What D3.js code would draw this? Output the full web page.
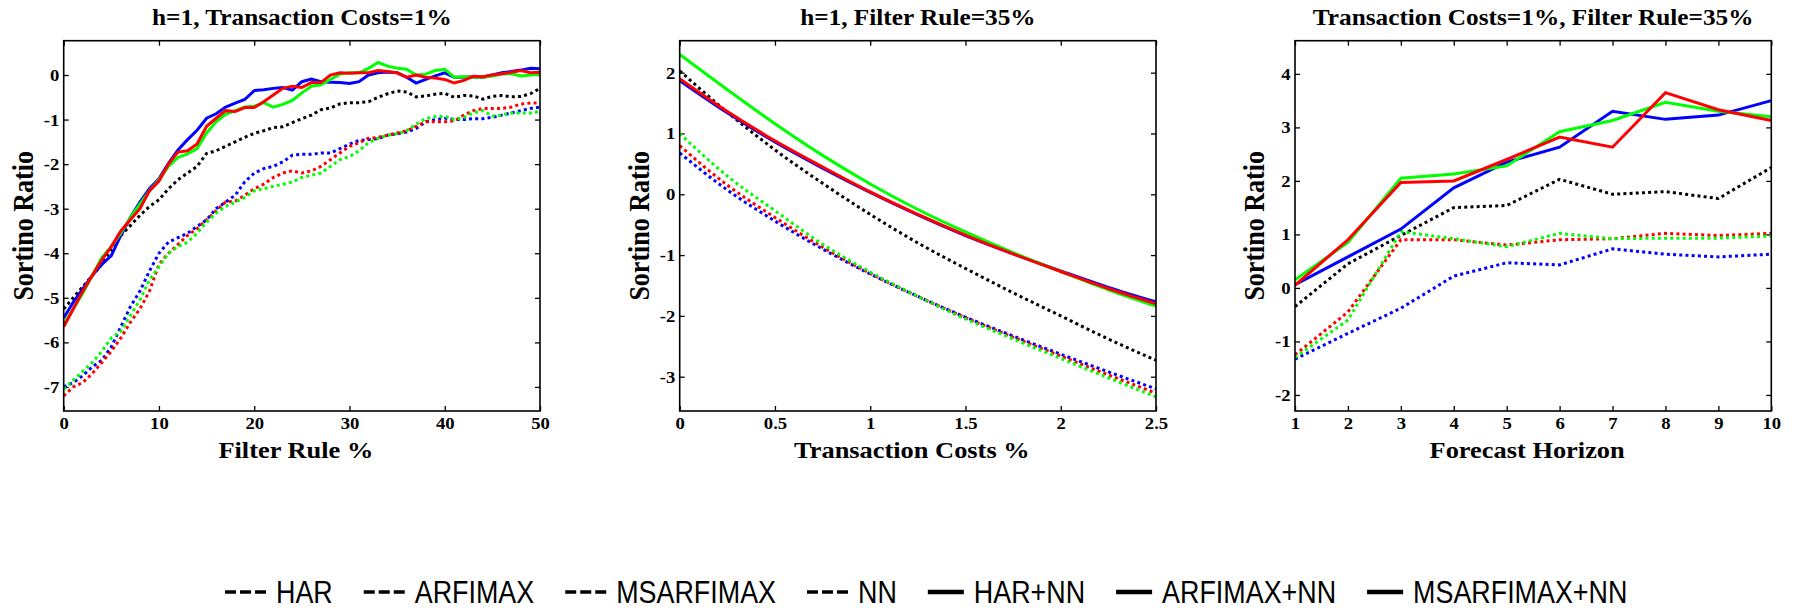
<!DOCTYPE html>
<html>
<head>
<meta charset="utf-8">
<script src="https://cdn.jsdelivr.net/npm/d3@7"></script>
<style>
  body { margin: 0; background: #fff; }
  svg text { font-family: "Liberation Serif", "Times New Roman", serif; font-weight: bold; fill: #000; }
  .legend text { font-family: "Liberation Sans", Arial, sans-serif; font-weight: normal; }
</style>
</head>
<body>
<svg id="chart"></svg>
<script>
// ---- data ----
const modelNames = ["HAR", "ARFIMAX", "MSARFIMAX", "NN", "HAR+NN", "ARFIMAX+NN", "MSARFIMAX+NN"];

// panel 1: h=1, transaction costs 1%, x = filter rule %
const filterRule = [0,1,2,3,4,5,6,7,8,9,10,11,12,13,14,15,16,17,18,19,20,21,22,23,24,25,26,27,28,29,30,
  31,32,33,34,35,36,37,38,39,40,41,42,43,44,45,46,47,48,49,50];
const fr_HAR = [-7.0,-6.9,-6.75,-6.55,-6.4,-6.1,-5.65,-5.2,-4.85,-4.4,-4.0,-3.75,-3.65,-3.55,-3.4,-3.25,-3.0,
  -2.85,-2.7,-2.4,-2.2,-2.1,-2.05,-1.95,-1.8,-1.78,-1.78,-1.75,-1.75,-1.65,-1.55,-1.47,-1.45,-1.43,-1.35,
  -1.32,-1.28,-1.2,-1.05,-1.0,-0.97,-1.0,-1.0,-0.98,-0.98,-0.95,-0.9,-0.85,-0.8,-0.75,-0.72];
const fr_ARFIMAX = [-7.2,-7.0,-6.9,-6.7,-6.45,-6.2,-5.9,-5.55,-5.25,-4.85,-4.25,-4.0,-3.8,-3.6,-3.45,-3.25,
  -3.05,-2.85,-2.83,-2.7,-2.55,-2.45,-2.3,-2.2,-2.15,-2.2,-2.15,-2.05,-1.9,-1.75,-1.6,-1.52,-1.42,-1.4,-1.35,
  -1.3,-1.25,-1.15,-1.05,-1.05,-1.05,-1.03,-0.9,-0.8,-0.75,-0.75,-0.75,-0.72,-0.65,-0.63,-0.63];
const fr_MSARFIMAX = [-7.05,-6.85,-6.65,-6.45,-6.2,-5.9,-5.75,-5.4,-5.05,-4.6,-4.3,-4.0,-3.85,-3.75,-3.55,
  -3.3,-3.1,-2.95,-2.85,-2.75,-2.6,-2.55,-2.5,-2.45,-2.4,-2.3,-2.25,-2.2,-2.05,-1.9,-1.83,-1.7,-1.52,-1.42,
  -1.35,-1.32,-1.25,-1.1,-0.98,-0.93,-0.93,-1.0,-0.95,-0.85,-0.8,-0.92,-0.9,-0.85,-0.85,-0.85,-0.82];
const fr_NN = [-5.25,-5.0,-4.75,-4.5,-4.25,-3.9,-3.6,-3.38,-3.15,-2.95,-2.8,-2.55,-2.35,-2.2,-2.05,-1.76,-1.7,
  -1.6,-1.5,-1.4,-1.31,-1.25,-1.18,-1.16,-1.07,-0.98,-0.9,-0.78,-0.74,-0.65,-0.62,-0.62,-0.6,-0.5,-0.42,-0.36,
  -0.38,-0.49,-0.47,-0.43,-0.41,-0.5,-0.46,-0.47,-0.54,-0.48,-0.46,-0.49,-0.48,-0.42,-0.3];
const fr_HAR_NN = [-5.45,-5.1,-4.8,-4.5,-4.25,-4.05,-3.6,-3.2,-2.85,-2.55,-2.33,-1.98,-1.68,-1.45,-1.24,-0.97,
  -0.87,-0.72,-0.63,-0.55,-0.35,-0.33,-0.3,-0.28,-0.34,-0.15,-0.09,-0.15,-0.16,-0.17,-0.19,-0.15,0.0,0.05,0.07,
  0.05,-0.05,-0.18,-0.1,-0.02,0.05,-0.05,-0.05,-0.04,-0.05,0.0,0.05,0.08,0.11,0.15,0.14];
const fr_ARFIMAX_NN = [-5.65,-5.25,-4.85,-4.5,-4.15,-3.85,-3.5,-3.25,-3.0,-2.6,-2.38,-2.0,-1.73,-1.7,-1.55,
  -1.15,-0.97,-0.8,-0.82,-0.73,-0.73,-0.6,-0.45,-0.3,-0.25,-0.28,-0.17,-0.17,0.0,0.05,0.04,0.05,0.05,0.1,0.08,
  0.05,-0.05,0.0,-0.05,-0.07,-0.1,-0.18,-0.12,-0.03,-0.04,0.0,0.03,0.06,0.1,0.05,0.06];
const fr_MSARFIMAX_NN = [-5.6,-5.25,-4.9,-4.5,-4.1,-3.85,-3.55,-3.2,-2.9,-2.6,-2.35,-2.05,-1.85,-1.77,-1.65,
  -1.3,-1.05,-0.88,-0.8,-0.72,-0.7,-0.62,-0.72,-0.66,-0.57,-0.4,-0.25,-0.22,-0.1,0.02,0.05,0.05,0.15,0.28,0.2,
  0.15,0.13,0.0,0.02,0.1,0.13,-0.05,-0.04,-0.05,-0.05,-0.02,0.02,0.03,-0.02,0.0,0.02];

// panel 2: h=1, filter rule 35%, x = transaction costs %
const transCosts = [0,0.25,0.5,0.75,1,1.25,1.5,1.75,2,2.25,2.5];
const tc_HAR = [0.68,0.07,-0.44,-0.9,-1.31,-1.68,-2.02,-2.33,-2.63,-2.92,-3.2];
const tc_ARFIMAX = [0.8,0.15,-0.38,-0.87,-1.3,-1.68,-2.03,-2.35,-2.66,-2.97,-3.27];
const tc_MSARFIMAX = [1.0,0.3,-0.27,-0.82,-1.28,-1.68,-2.05,-2.38,-2.7,-3.02,-3.33];
const tc_NN = [2.03,1.35,0.73,0.18,-0.33,-0.8,-1.22,-1.62,-2.0,-2.38,-2.73];
const tc_HAR_NN = [1.87,1.34,0.86,0.43,0.03,-0.34,-0.68,-0.98,-1.26,-1.53,-1.77];
const tc_ARFIMAX_NN = [1.9,1.36,0.88,0.45,0.04,-0.33,-0.67,-0.98,-1.27,-1.55,-1.8];
const tc_MSARFIMAX_NN = [2.3,1.72,1.16,0.64,0.17,-0.25,-0.62,-0.96,-1.27,-1.57,-1.84];

// panel 3: transaction costs 1%, filter rule 35%, x = forecast horizon
const horizon = [1,2,3,4,5,6,7,8,9,10];
const fh_HAR = [-1.33,-0.85,-0.38,0.22,0.47,0.43,0.73,0.63,0.58,0.63];
const fh_ARFIMAX = [-1.25,-0.45,0.9,0.9,0.8,0.9,0.92,1.02,0.98,1.02];
const fh_MSARFIMAX = [-1.3,-0.6,1.05,0.92,0.77,1.02,0.92,0.93,0.93,0.97];
const fh_NN = [-0.35,0.45,0.98,1.5,1.54,2.03,1.75,1.8,1.67,2.25];
const fh_HAR_NN = [0.06,0.58,1.1,1.87,2.35,2.63,3.3,3.15,3.23,3.5];
const fh_ARFIMAX_NN = [0.05,0.9,1.97,2.0,2.4,2.82,2.63,3.65,3.33,3.13];
const fh_MSARFIMAX_NN = [0.15,0.85,2.05,2.13,2.28,2.92,3.13,3.47,3.3,3.2];

// line look per model
const seriesStyle = {
  "HAR":          {color: "#0000ff", dotted: true},
  "ARFIMAX":      {color: "#ff0000", dotted: true},
  "MSARFIMAX":    {color: "#00ff00", dotted: true},
  "NN":           {color: "#000000", dotted: true},
  "HAR+NN":       {color: "#0000ff", dotted: false},
  "ARFIMAX+NN":   {color: "#ff0000", dotted: false},
  "MSARFIMAX+NN": {color: "#00ff00", dotted: false}
};
const drawOrder = ["NN", "HAR", "ARFIMAX", "MSARFIMAX", "HAR+NN", "MSARFIMAX+NN", "ARFIMAX+NN"];

const SX = 1.1; // the source figure was stretched sideways a little, text too

class SortinoPanel {
  constructor(_config, _x, _series) {
    this.config = {
      parentElement: _config.parentElement,
      left: _config.left,
      top: _config.top || 40.7,
      width: _config.width || 476.3,
      height: _config.height || 370.3,
      xDomain: _config.xDomain,
      yDomain: _config.yDomain,
      xTicks: _config.xTicks,
      yTicks: _config.yTicks,
      title: _config.title,
      xLabel: _config.xLabel,
      curve: _config.curve || d3.curveLinear
    };
    this.x = _x;
    this.series = _series;
    this.initVis();
  }

  initVis() {
    let vis = this;
    const c = vis.config;

    vis.xScale = d3.scaleLinear().domain(c.xDomain).range([0, c.width]);
    vis.yScale = d3.scaleLinear().domain(c.yDomain).range([c.height, 0]);

    vis.chart = d3.select(c.parentElement).append('g')
      .attr('transform', `translate(${c.left},${c.top})`);

    // ticks point inward on all four sides, matlab box style
    const fmt = d => String(d);
    vis.chart.append('g').attr('class', 'axis x-axis')
      .attr('transform', `translate(0,${c.height})`)
      .call(d3.axisBottom(vis.xScale).tickValues(c.xTicks).tickFormat(fmt).tickSize(-5).tickPadding(6));
    vis.chart.append('g').attr('class', 'axis')
      .call(d3.axisTop(vis.xScale).tickValues(c.xTicks).tickFormat('').tickSize(-5));
    vis.chart.append('g').attr('class', 'axis y-axis')
      .call(d3.axisLeft(vis.yScale).tickValues(c.yTicks).tickFormat(fmt).tickSize(-5).tickPadding(4));
    vis.chart.append('g').attr('class', 'axis')
      .attr('transform', `translate(${c.width},0)`)
      .call(d3.axisRight(vis.yScale).tickValues(c.yTicks).tickFormat('').tickSize(-5));

    vis.chart.selectAll('.axis').attr('font-family', null).attr('font-size', null);
    vis.chart.selectAll('.axis .domain').remove();
    vis.chart.selectAll('.axis line').attr('stroke', '#000').attr('stroke-width', 1.3);
    vis.chart.selectAll('.axis text').style('font-size', '17px')
      .attr('transform', `scale(${SX},1)`);
    vis.chart.selectAll('.x-axis text').attr('dy', '0.71em');

    vis.chart.append('text')
      .attr('text-anchor', 'middle')
      .attr('transform', `translate(${c.width / 2},-16) scale(${SX},1)`)
      .style('font-size', '23px')
      .text(c.title);

    vis.chart.append('text')
      .attr('text-anchor', 'middle')
      .attr('transform', `translate(${c.width / 2 - 6},${c.height + 47}) scale(${SX},1)`)
      .style('font-size', '24px')
      .text(c.xLabel);

    vis.chart.append('text')
      .attr('text-anchor', 'middle')
      .attr('transform', `translate(-31,${c.height / 2}) scale(${SX},1) rotate(-90)`)
      .style('font-size', '26px')
      .text('Sortino Ratio');

    vis.renderVis();
  }

  renderVis() {
    let vis = this;
    const c = vis.config;

    vis.chart.append('clipPath').attr('id', `clip-${c.left}`)
      .append('rect').attr('width', c.width).attr('height', c.height);

    vis.line = d3.line()
      .x((d, i) => vis.xScale(vis.x[i]))
      .y(d => vis.yScale(d))
      .curve(c.curve);

    vis.chart.append('g').attr('clip-path', `url(#clip-${c.left})`)
      .selectAll('.series')
      .data(drawOrder.map(name => ({name: name, values: vis.series[name]})))
      .join('path')
        .attr('class', 'series')
        .attr('fill', 'none')
        .attr('stroke', d => seriesStyle[d.name].color)
        .attr('stroke-width', 3)
        .attr('stroke-dasharray', d => seriesStyle[d.name].dotted ? '3,3.2' : null)
        .attr('d', d => vis.line(d.values));

    vis.chart.append('rect')
      .attr('width', c.width).attr('height', c.height)
      .attr('fill', 'none').attr('stroke', '#000').attr('stroke-width', 1.6);
  }
}

const svg = d3.select('#chart').attr('width', 1796).attr('height', 611);

new SortinoPanel({
  parentElement: '#chart', left: 63.7,
  xDomain: [0, 50], yDomain: [-7.54, 0.77],
  xTicks: [0, 10, 20, 30, 40, 50], yTicks: [-7, -6, -5, -4, -3, -2, -1, 0],
  title: 'h=1, Transaction Costs=1%', xLabel: 'Filter Rule %'
}, filterRule, {
  "HAR": fr_HAR, "ARFIMAX": fr_ARFIMAX, "MSARFIMAX": fr_MSARFIMAX, "NN": fr_NN,
  "HAR+NN": fr_HAR_NN, "ARFIMAX+NN": fr_ARFIMAX_NN, "MSARFIMAX+NN": fr_MSARFIMAX_NN
});

new SortinoPanel({
  parentElement: '#chart', left: 679.7,
  xDomain: [0, 2.5], yDomain: [-3.564, 2.526],
  xTicks: [0, 0.5, 1, 1.5, 2, 2.5], yTicks: [-3, -2, -1, 0, 1, 2],
  title: 'h=1, Filter Rule=35%', xLabel: 'Transaction Costs %',
  curve: d3.curveMonotoneX
}, transCosts, {
  "HAR": tc_HAR, "ARFIMAX": tc_ARFIMAX, "MSARFIMAX": tc_MSARFIMAX, "NN": tc_NN,
  "HAR+NN": tc_HAR_NN, "ARFIMAX+NN": tc_ARFIMAX_NN, "MSARFIMAX+NN": tc_MSARFIMAX_NN
});

new SortinoPanel({
  parentElement: '#chart', left: 1295,
  xDomain: [1, 10], yDomain: [-2.3, 4.62],
  xTicks: [1, 2, 3, 4, 5, 6, 7, 8, 9, 10], yTicks: [-2, -1, 0, 1, 2, 3, 4],
  title: 'Transaction Costs=1%, Filter Rule=35%', xLabel: 'Forecast Horizon'
}, horizon, {
  "HAR": fh_HAR, "ARFIMAX": fh_ARFIMAX, "MSARFIMAX": fh_MSARFIMAX, "NN": fh_NN,
  "HAR+NN": fh_HAR_NN, "ARFIMAX+NN": fh_ARFIMAX_NN, "MSARFIMAX+NN": fh_MSARFIMAX_NN
});

// legend row, all swatches black like the original; narrow sans faked by squeezing
const NARROW = 0.84;
const legend = svg.append('g').attr('class', 'legend').attr('transform', 'translate(0,603)');
let lx = 225;
modelNames.forEach(name => {
  const dotted = seriesStyle[name].dotted;
  const sw = dotted ? 41 : 36;
  legend.append('line')
    .attr('x1', lx).attr('x2', lx + sw).attr('y1', -11).attr('y2', -11)
    .attr('stroke', '#000').attr('stroke-width', dotted ? 3.5 : 4.5)
    .attr('stroke-dasharray', dotted ? '11,4' : null);
  const t = legend.append('text')
    .attr('transform', `translate(${lx + sw + 10},0) scale(${NARROW},1)`)
    .style('font-size', '32px')
    .text(name);
  lx += sw + 10 + t.node().getComputedTextLength() * NARROW + 31;
});
</script>
</body>
</html>
